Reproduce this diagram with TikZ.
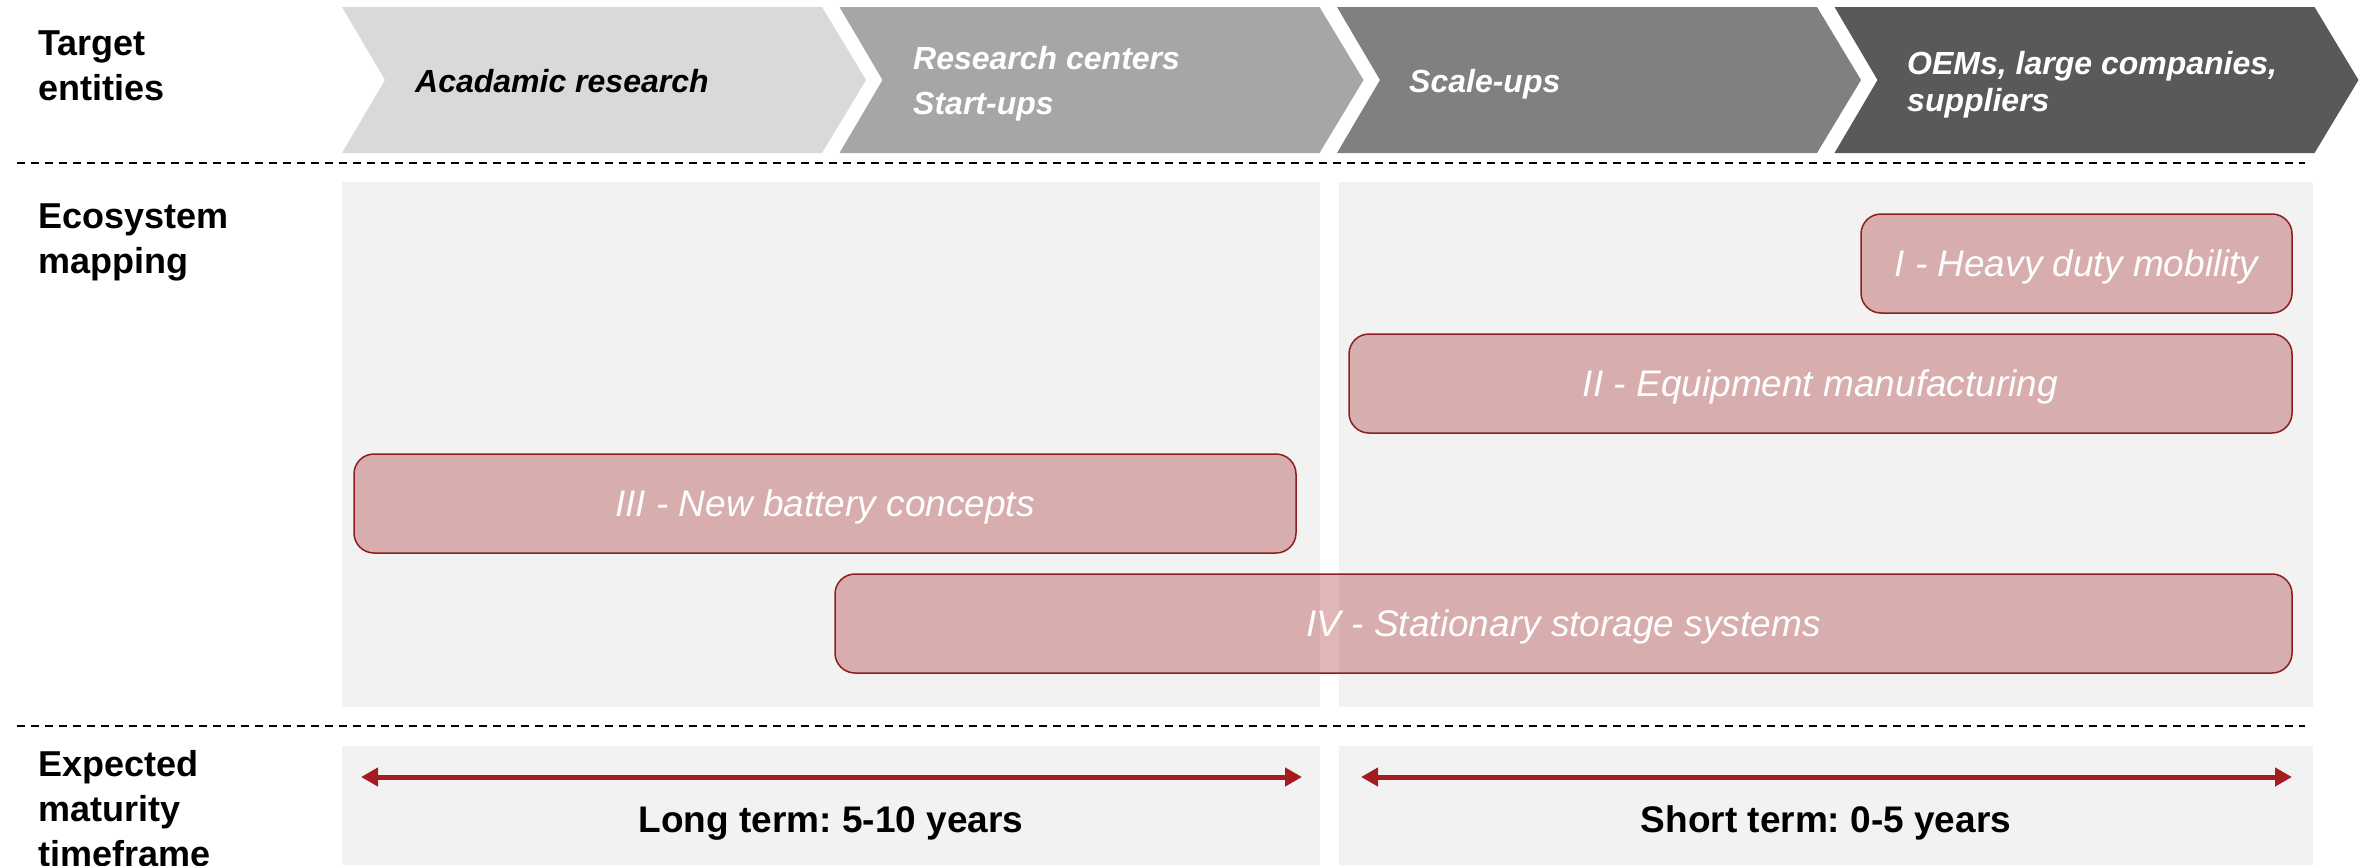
\documentclass[tikz,border=0pt]{standalone}
\usepackage{fontspec}
\setmainfont{Liberation Sans}
\usetikzlibrary{arrows.meta}
\definecolor{chA}{HTML}{D9D9D9}
\definecolor{chB}{HTML}{A6A6A6}
\definecolor{chC}{HTML}{808080}
\definecolor{chD}{HTML}{595959}
\definecolor{panelc}{HTML}{F2F2F2}
\definecolor{barfill}{RGB}{155,15,19}
\definecolor{barline}{RGB}{140,30,32}
\definecolor{arrowc}{RGB}{164,28,31}
\frenchspacing
\begin{document}
\begin{tikzpicture}[x=1pt,y=-1pt,
  lbl/.style={inner sep=0pt, anchor=base west, font=\fontsize{36}{45}\selectfont\bfseries, text=black},
  chtext/.style={inner sep=0pt, anchor=base west, font=\fontsize{32}{38}\selectfont\bfseries\itshape},
  sepline/.style={draw=black, line width=2pt, dash pattern=on 8pt off 6pt},
  panel/.style={fill=panelc},
  bar/.style={draw=barline, line width=1.5pt, fill=barfill, fill opacity=0.3, text opacity=1,
    rounded corners=20pt, inner sep=0pt, minimum height=99pt, text=white,
    font=\fontsize{37}{44}\selectfont\itshape, text height=26.5pt, text depth=0pt},
  tarrow/.style={draw=arrowc, line width=5pt, {Triangle[length=17pt,width=18pt]}-{Triangle[length=17pt,width=18pt]}},
  btext/.style={inner sep=0pt, anchor=base, font=\fontsize{37}{44}\selectfont\bfseries, text=black}
]
\useasboundingbox (0,0) rectangle (2361,865);
\fill[white] (0,0) rectangle (2361,865);

% chevrons
\foreach \i/\c in {0/chA,1/chB,2/chC,3/chD}{
  \fill[\c] ({342+497.5*\i},7) -- ++(480,0) -- ++(44,73) -- ++(-44,73) -- ++(-480,0) -- ++(43,-73) -- cycle;
}
\node[chtext, text=black] (c1) at (415,92) {Acadamic research};
\node[chtext, text=white] (c2a) at (913,69.5) {Research centers};
\node[chtext, text=white] (c2b) at (913,114.5) {Start-ups};
\node[chtext, text=white] (c3) at (1409,92) {Scale-ups};
\node[chtext, text=white] (c4a) at (1907,74) {OEMs, large companies,};
\node[chtext, text=white] (c4b) at (1907,111.5) {suppliers};

% left labels
\node[lbl] (l1a) at (38,55) {Target};
\node[lbl] (l1b) at (38,100) {entities};
\node[lbl] (l2a) at (38,228) {Ecosystem};
\node[lbl] (l2b) at (38,273) {mapping};
\node[lbl] (l3a) at (38,776) {Expected};
\node[lbl] (l3b) at (38,821) {maturity};
\node[lbl] (l3c) at (38,866) {timeframe};

% separators
\coordinate (s1a) at (17,163); \coordinate (s1b) at (2305,163);
\coordinate (s2a) at (17,726); \coordinate (s2b) at (2305,726);
\draw[sepline] (s1a) -- (s1b);
\draw[sepline] (s2a) -- (s2b);

% panels
\fill[panel] (342,182) rectangle (1320,707);
\fill[panel] (1339,182) rectangle (2313,707);
\fill[panel] (342,746) rectangle (1320,865);
\fill[panel] (1339,746) rectangle (2313,865);

% bars
\node[bar, minimum width=431pt] (b1) at (2076.5,263.5) {I - Heavy duty mobility};
\node[bar, minimum width=943pt] (b2) at (1820.5,383.5) {II - Equipment manufacturing};
\node[bar, minimum width=942pt] (b3) at (825,503.5) {III - New battery concepts};
\node[bar, minimum width=1457pt] (b4) at (1563.5,623.5) {IV - Stationary storage systems};

% timeframe arrows
\coordinate (a1l) at (361,777); \coordinate (a1r) at (1302,777);
\coordinate (a2l) at (1361,777); \coordinate (a2r) at (2292,777);
\draw[tarrow] (a1l) -- (a1r);
\draw[tarrow] (a2l) -- (a2r);
\node[btext] (t1) at (831,832) {Long term: 5-10 years};
\node[btext] (t2) at (1826,832) {Short term: 0-5 years};
\end{tikzpicture}
\end{document}
